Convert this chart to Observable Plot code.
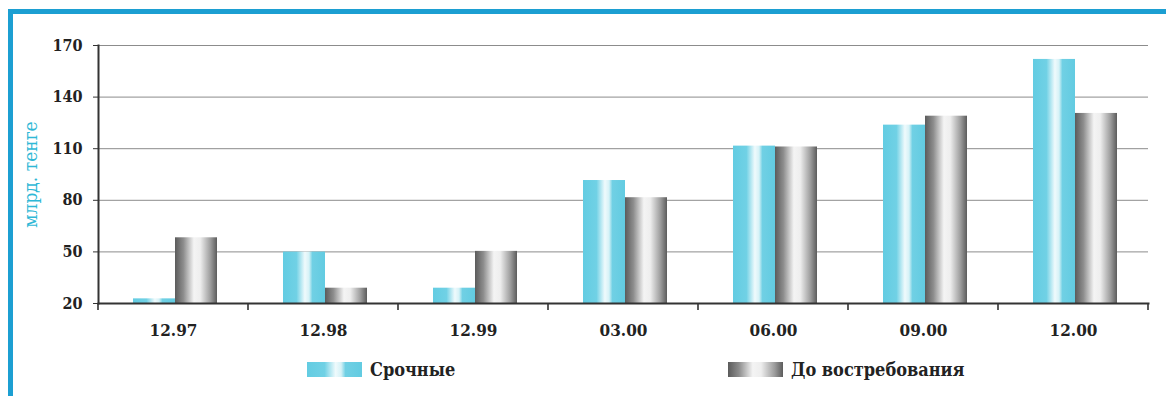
<!DOCTYPE html>
<html>
<head>
<meta charset="utf-8">
<script src="https://cdn.jsdelivr.net/npm/d3@7"></script>
<script src="https://cdn.jsdelivr.net/npm/@observablehq/plot@0.6"></script>
<style>
  html, body { margin: 0; padding: 0; background: #fff; }
  #card {
    position: absolute; left: 8px; top: 9px;
    width: 1153px; height: 382px;
    border-left: 5px solid #1c9fd2; border-top: 5px solid #1c9fd2;
    background: #fff;
  }
  #chart svg { display: block; }
  #legend {
    position: absolute; left: 0; top: 347px; width: 100%; height: 17px;
    font-family: "DejaVu Serif Condensed", "Liberation Serif", serif;
    font-size: 18px; font-weight: bold; color: #222;
  }
  #legend .item { position: absolute; top: 0; display: flex; align-items: center; gap: 8px; height: 17px; }
  #legend .swatch { width: 55px; height: 15px; }
</style>
</head>
<body>
<div id="card">
  <div id="chart"></div>
  <div id="legend"></div>
</div>
<script>
// Deposits by term, billions of tenge
const periods = ["12.97", "12.98", "12.99", "03.00", "06.00", "09.00", "12.00"];
const termDeposits = [22.7, 49.9, 28.9, 91.5, 111.5, 123.7, 161.9];     // Срочные
const demandDeposits = [58.2, 28.9, 50.3, 81.5, 111, 128.9, 130.5];    // До востребования
const seriesNames = ["Срочные", "До востребования"];
const yTicks = [20, 50, 80, 110, 140, 170];
const BASE = 20;
const unitLabel = "млрд. тенге";

const FONT = '"DejaVu Serif Condensed", "Liberation Serif", serif';
const CYAN = "#2fb8d6";

// Cylinder-like shading for each series
const termStops = [[0, "#63cce2"], [0.32, "#70d1e5"], [0.52, "#effafc"], [0.62, "#d6f2f7"], [0.7, "#70d0e4"], [1, "#62cbe1"]];
const demandStops = [[0, "#5b5b5b"], [0.2, "#8d8d8d"], [0.45, "#f4f4f4"], [0.6, "#eeeeee"], [0.85, "#9b9b9b"], [1, "#5c5c5c"]];

const rows = periods.flatMap((p, i) => [
  {period: p, series: seriesNames[0], value: termDeposits[i]},
  {period: p, series: seriesNames[1], value: demandDeposits[i]}
]);

function gradientDefs() {
  const defs = d3.create("svg:defs");
  for (const [id, stops] of [["grad-term", termStops], ["grad-demand", demandStops]]) {
    const g = defs.append("linearGradient").attr("id", id).attr("x1", "0").attr("x2", "1").attr("y1", "0").attr("y2", "0");
    for (const [o, c] of stops) g.append("stop").attr("offset", o).attr("stop-color", c);
  }
  return defs.node();
}

// Small ticks on the category axis at the boundaries between periods
function periodTicks(index, scales, values, dimensions) {
  const {x} = scales;
  const bottom = dimensions.height - dimensions.marginBottom;
  const step = x(periods[1]) - x(periods[0]);
  const edges = periods.map((p) => x(p)).concat(x(periods[periods.length - 1]) + step);
  const g = d3.create("svg:g").attr("stroke", "#333").attr("stroke-width", 1.6);
  for (const e of edges) g.append("line").attr("x1", e).attr("x2", e).attr("y1", bottom).attr("y2", bottom + 7);
  return g.node();
}

const chart = Plot.plot({
  width: 1153,
  height: 336,
  marginLeft: 85,
  marginRight: 18,
  marginTop: 31,
  marginBottom: 47,
  style: {fontFamily: FONT, fontSize: "16px", color: "#222", background: "transparent"},
  x: {domain: periods, padding: 0, label: null},
  y: {domain: [BASE, 170], label: null},
  marks: [
    gradientDefs,
    Plot.gridY(yTicks, {stroke: "#8c8c8c", strokeOpacity: 1}),
    Plot.barY(rows.filter((d) => d.series === seriesNames[0]), {
      x: "period", y1: BASE, y2: "value", fill: "url(#grad-term)", insetLeft: 35, insetRight: 73
    }),
    Plot.barY(rows.filter((d) => d.series === seriesNames[1]), {
      x: "period", y1: BASE, y2: "value", fill: "url(#grad-demand)", insetLeft: 77, insetRight: 31
    }),
    Plot.frame({anchor: "left", stroke: "#333", strokeWidth: 2}),
    Plot.frame({anchor: "bottom", stroke: "#333", strokeWidth: 2}),
    periodTicks,
    Plot.axisY(yTicks, {tickSize: 5, tickPadding: 11, stroke: "#333", fontWeight: "bold", label: null}),
    Plot.axisX({tickSize: 0, tickPadding: 20, fontSize: 17, fontWeight: "bold", label: null}),
    Plot.text([unitLabel], {
      frameAnchor: "left", textAnchor: "middle", dx: -68, rotate: -90,
      fill: CYAN, fontSize: 19, fontFamily: FONT
    })
  ]
});
document.getElementById("chart").appendChild(chart);

// Legend below the plot
const css = (stops) => `linear-gradient(to right, ${stops.map(([o, c]) => `${c} ${o * 100}%`).join(", ")})`;
const legend = d3.select("#legend");
[[seriesNames[0], termStops, 294], [seriesNames[1], demandStops, 715]].forEach(([name, stops, left]) => {
  const item = legend.append("div").attr("class", "item").style("left", left + "px");
  item.append("div").attr("class", "swatch").style("background", css(stops));
  item.append("span").text(name);
});
</script>
</body>
</html>
